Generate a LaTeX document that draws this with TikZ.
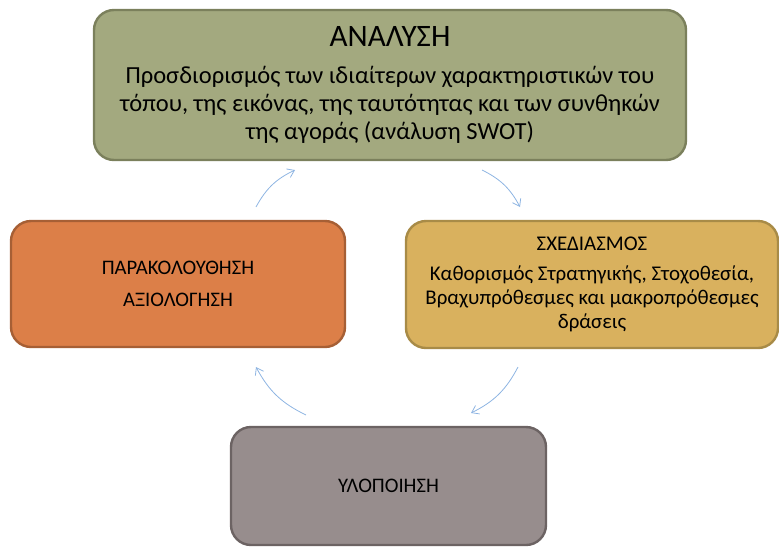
\documentclass[tikz,border=0pt]{standalone}
\usepackage{fontspec}
\setmainfont{Carlito}
\usetikzlibrary{arrows.meta}
\definecolor{olivefill}{HTML}{A3A97F}
\definecolor{olivedraw}{HTML}{7B805C}
\definecolor{orangefill}{HTML}{DC7F48}
\definecolor{orangedraw}{HTML}{A65F35}
\definecolor{yellowfill}{HTML}{D9B15E}
\definecolor{yellowdraw}{HTML}{A88B47}
\definecolor{greyfill}{HTML}{978D8D}
\definecolor{greydraw}{HTML}{6C6363}
\definecolor{arrowblue}{HTML}{8DB4E2}
\tikzset{
  phasebox/.style={rounded corners=15pt, line width=1.8pt, align=center, inner sep=0pt},
  cyclearrow/.style={arrowblue, line width=0.6pt, -{Straight Barb[length=5pt,width=7pt]}, bend left=18}
}
\begin{document}
\begin{tikzpicture}[x=0.75pt,y=-0.75pt]
                \useasboundingbox (0,0) rectangle (779,547);
                \node[phasebox, fill=olivefill, draw=olivedraw, minimum width=444pt, minimum height=112.5pt,
                      font=\fontsize{18.4}{20.8}\selectfont] (analysi) at (390,85)
                  {{\fontsize{23.4}{26}\selectfont ΑΝΑΛΥΣΗ}\\[7pt]
                   Προσδιορισμός των ιδιαίτερων χαρακτηριστικών του\\
                   τόπου, της εικόνας, της ταυτότητας και των συνθηκών\\
                   της αγοράς (ανάλυση SWOT)};
                \node[phasebox, fill=yellowfill, draw=yellowdraw, minimum width=279pt, minimum height=95.25pt,
                      font=\fontsize{15.7}{18}\selectfont] (schediasmos) at (592,284.5)
                  {ΣΧΕΔΙΑΣΜΟΣ\\[4.5pt]
                   Καθορισμός Στρατηγικής, Στοχοθεσία,\\
                   Βραχυπρόθεσμες και μακροπρόθεσμες\\
                   δράσεις};
                \node[phasebox, fill=orangefill, draw=orangedraw, minimum width=250.5pt, minimum height=94.5pt,
                      font=\fontsize{15.5}{24}\selectfont] (parakolouthisi) at (178,284)
                  {ΠΑΡΑΚΟΛΟΥΘΗΣΗ\\
                   ΑΞΙΟΛΟΓΗΣΗ};
                \node[phasebox, fill=greyfill, draw=greydraw, minimum width=236.25pt, minimum height=88.5pt,
                      font=\fontsize{15.5}{18}\selectfont] (ylopoiisi) at (388.5,486)
                  {ΥΛΟΠΟΙΗΣΗ};
                \coordinate (a1) at (482,170);
                \coordinate (a2) at (520,207);
                \coordinate (b1) at (518,367);
                \coordinate (b2) at (471,413);
                \coordinate (c1) at (306,415);
                \coordinate (c2) at (256,367);
                \coordinate (d1) at (256,207);
                \coordinate (d2) at (295,170);
                \draw[cyclearrow] (a1) to (a2);
                \draw[cyclearrow] (b1) to (b2);
                \draw[cyclearrow] (c1) to (c2);
                \draw[cyclearrow] (d1) to (d2);
            \end{tikzpicture}
\end{document}
